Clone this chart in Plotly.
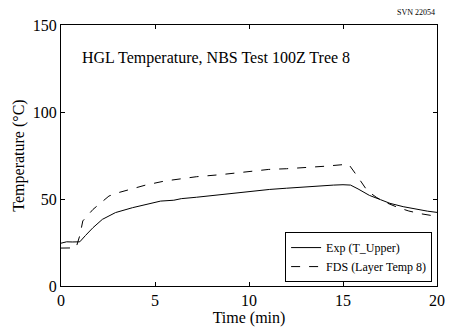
import plotly.graph_objects as go

# Experimental upper-layer temperature (T_Upper)
exp_time = [0.0, 0.3, 0.6, 1.0, 1.3, 1.7, 2.2, 2.9, 3.8, 4.6, 5.3, 6.0, 6.4, 7.2, 8.1, 9.0, 9.8,
            10.5, 11.1, 12.0, 12.8, 13.6, 14.5, 15.0, 15.4, 15.8, 16.4, 17.0, 17.5, 18.2, 18.9, 19.5, 20.0]
exp_temp = [24.6, 25.4, 25.3, 25.4, 29.0, 33.5, 38.3, 42.2, 45.0, 46.9, 48.8, 49.3, 50.2, 51.0, 52.1, 53.0, 54.0,
            54.6, 55.5, 56.2, 56.9, 57.4, 58.0, 58.2, 58.0, 55.8, 52.1, 49.6, 47.5, 45.6, 44.1, 43.0, 42.3]

# FDS prediction (Layer Temp 8)
fds_time = [0.0, 0.4, 0.8, 1.0, 1.16, 1.7, 2.55, 3.0, 3.77, 4.5, 5.5, 6.3, 7.2, 8.5, 9.8,
            10.5, 11.05, 12.0, 12.8, 14.0, 15.05, 15.3, 15.8, 16.3, 16.8, 17.3, 17.9, 18.5, 19.1, 19.6, 20.0]
fds_temp = [21.8, 21.8, 21.9, 29.0, 37.4, 44.0, 51.7, 53.5, 55.9, 58.0, 60.3, 61.5, 62.8, 64.0, 65.4,
            66.0, 67.0, 67.4, 67.9, 68.8, 69.8, 70.0, 62.5, 54.6, 50.8, 47.9, 45.2, 43.1, 41.6, 40.6, 40.0]

x_ticks = [0, 5, 10, 15, 20]
y_ticks = [0, 50, 100, 150]

serif = "Liberation Serif"

fig = go.Figure()
fig.add_trace(go.Scatter(x=exp_time, y=exp_temp, mode="lines", name="Exp (T_Upper)",
                         line=dict(color="black", width=1, dash="solid")))
fig.add_trace(go.Scatter(x=fds_time, y=fds_temp, mode="lines", name="FDS (Layer Temp 8)",
                         line=dict(color="black", width=1, dash="dash")))

axis_common = dict(showgrid=False, zeroline=False, showline=True, linecolor="black", linewidth=1,
                   mirror="ticks", ticks="inside", ticklen=4, tickcolor="black",
                   tickfont=dict(family=serif, size=16, color="black"))

fig.update_xaxes(range=[0, 20], tickvals=x_ticks, **axis_common,
                 title=dict(text="Time (min)", font=dict(family=serif, size=16, color="black"), standoff=0))
fig.update_yaxes(range=[0, 150], tickvals=y_ticks, **axis_common,
                 title=dict(text="Temperature (°C)", font=dict(family=serif, size=16, color="black"), standoff=4))

fig.add_annotation(x=0.05, y=0.874, xref="paper", yref="paper", xanchor="left", yanchor="middle",
                   text="HGL Temperature, NBS Test 100Z Tree 8", showarrow=False,
                   font=dict(family=serif, size=16, color="black"))
fig.add_annotation(x=1.0, y=1.0, xref="paper", yref="paper", xanchor="right", yanchor="bottom",
                   yshift=6, text="SVN 22054", showarrow=False,
                   font=dict(family=serif, size=8, color="black"))

fig.update_layout(
    width=453, height=328,
    margin=dict(l=61, r=8, t=25, b=41),
    paper_bgcolor="white", plot_bgcolor="white",
    font=dict(family=serif, color="black"),
    legend=dict(x=0.987, y=0.015, xanchor="right", yanchor="bottom",
                bgcolor="white", bordercolor="black", borderwidth=1,
                font=dict(family=serif, size=12, color="black"),
                tracegroupgap=0, itemwidth=30),
    showlegend=True,
)

fig.write_html("out.html")
